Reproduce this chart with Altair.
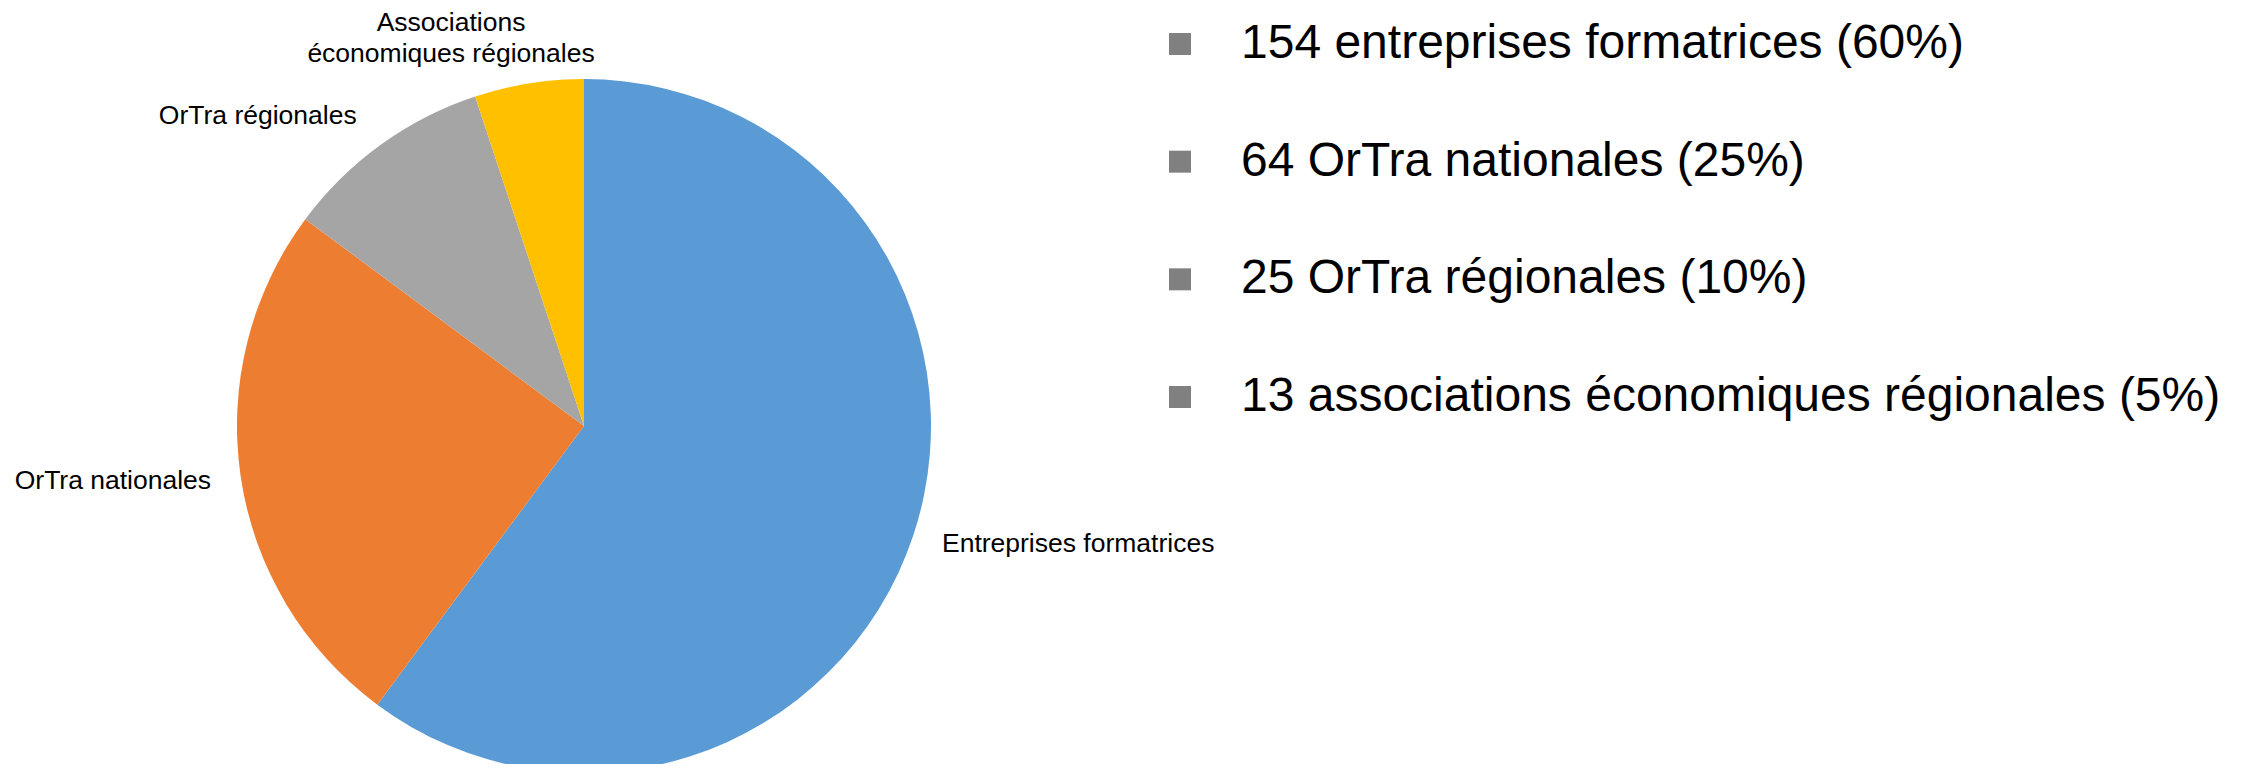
import altair as alt
import pandas as pd

# ---- data ----
categories = ["Entreprises formatrices", "OrTra nationales", "OrTra régionales",
              "Associations économiques régionales"]
pie_labels = ["Entreprises formatrices", "OrTra nationales", "OrTra régionales",
              "Associations\néconomiques régionales"]
legend_names = ["entreprises formatrices", "OrTra nationales", "OrTra régionales",
                "associations économiques régionales"]
counts = [154, 64, 25, 13]
colors = ["#5B9BD5", "#ED7D31", "#A5A5A5", "#FFC000"]

total = sum(counts)
legend_labels = [f"{c} {n} ({round(c / total * 100)}%)" for c, n in zip(counts, legend_names)]

df = pd.DataFrame({
    "cat": categories,
    "plabel": pie_labels,
    "count": counts,
    "rank": list(range(len(categories))),
    "leg": legend_labels,
})

FONT = "Liberation Sans"
CX, CY, R = 576, 418, 347

base = alt.Chart(df)

theta = alt.Theta("count:Q", stack=True)
order = alt.Order("rank:Q")

pie = base.mark_arc(radius=R).encode(
    theta=theta,
    order=order,
    color=alt.Color("cat:N", scale=alt.Scale(domain=categories, range=colors), legend=None),
    x=alt.value(CX),
    y=alt.value(CY),
)

# pie labels: (radius, align, baseline, dx, dy)
label_styles = [
    (377, "left", "middle", 0, 0),
    (377, "right", "middle", 0, 0),
    (388, "right", "middle", 0, 4),
    (365, "center", "bottom", -75, -29),
]

label_layers = []
for i, (rad, al, bl, dx, dy) in enumerate(label_styles):
    label_layers.append(
        base.mark_text(radius=rad, align=al, baseline=bl, dx=dx, dy=dy,
                       fontSize=26.5, font=FONT, color="#000000", lineBreak="\n",
                       lineHeight=31).encode(
            theta=theta,
            order=order,
            text=alt.condition(alt.datum.rank == i, "plabel:N", alt.value("")),
            x=alt.value(CX),
            y=alt.value(CY),
        )
    )

leg_y = alt.Y("leg:N", sort=legend_labels, axis=None,
              scale=alt.Scale(type="point", range=[36, 389], padding=0))

leg_sq = base.mark_square(size=484, filled=True, color="#808080", opacity=1).encode(
    y=leg_y,
    x=alt.value(1172),
)
leg_txt = base.mark_text(align="left", baseline="middle", fontSize=48, font=FONT,
                         color="#000000").encode(
    y=leg_y,
    x=alt.value(1233),
    text="leg:N",
)

chart = alt.layer(pie, *label_layers, leg_sq, leg_txt).properties(
    width=2226, height=756, padding=0,
    autosize=alt.AutoSizeParams(type="none"),
).configure_view(stroke=None)

chart.save("out.html", embed_options={"renderer": "svg", "actions": False})
